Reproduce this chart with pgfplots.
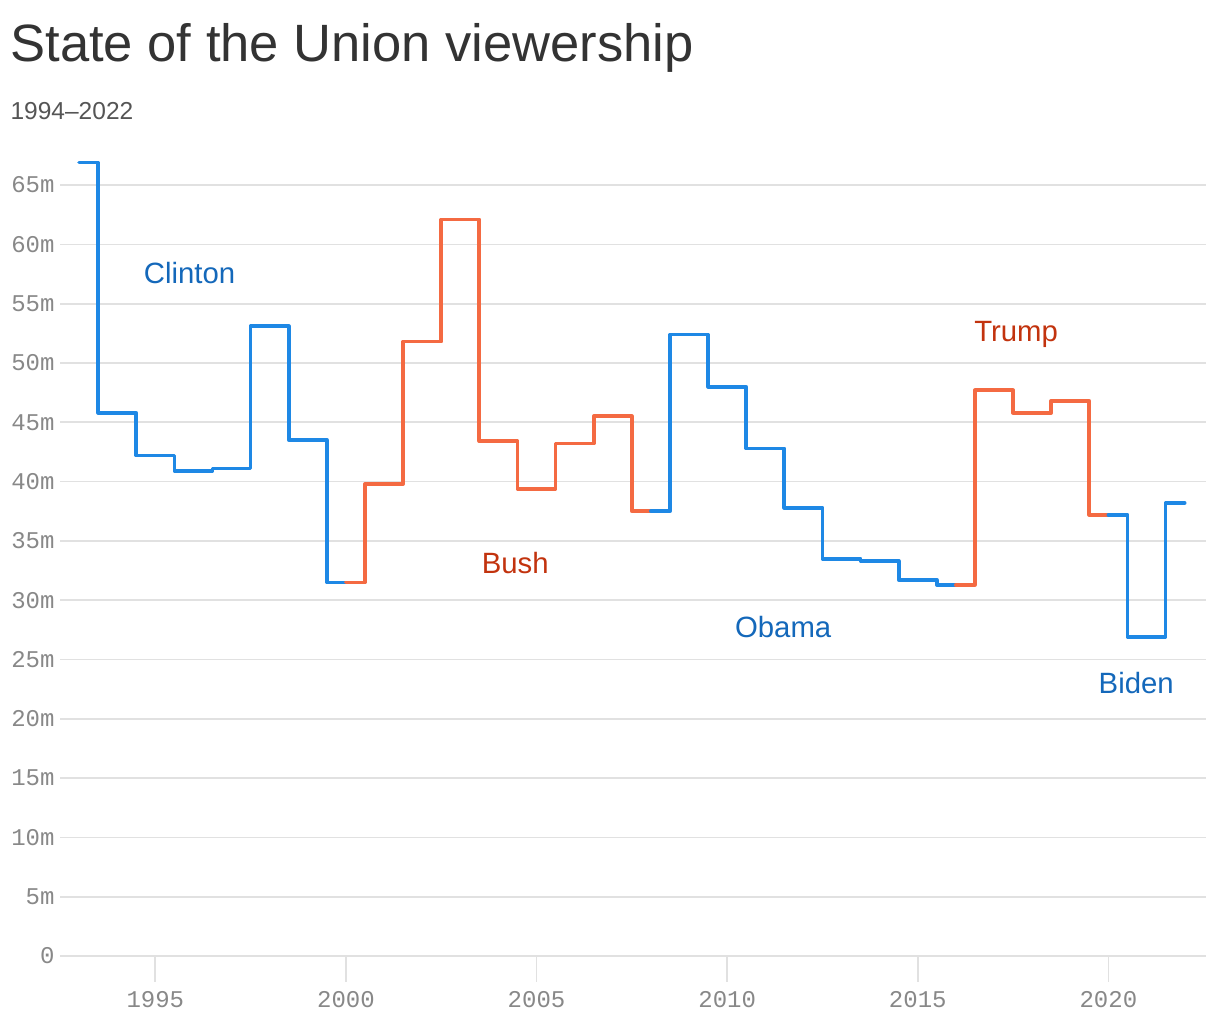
\documentclass[border=0pt]{standalone}
\usepackage{pgfplots}
\pgfplotsset{compat=1.18}
\usepackage{fontspec}
\setmainfont{Liberation Sans}
\newfontfamily\tickfont{Liberation Mono}
\definecolor{linblue}{HTML}{1E88E5}
\definecolor{linorange}{HTML}{F46A42}
\definecolor{labblue}{HTML}{1468BA}
\definecolor{labred}{HTML}{C2330E}
\definecolor{gridgray}{HTML}{E1E1E1}
\definecolor{tickgray}{HTML}{888888}
\definecolor{titlegray}{HTML}{333333}
\definecolor{subgray}{HTML}{555555}
\begin{document}
\begin{tikzpicture}
\useasboundingbox (0,0) rectangle (457.5pt,382.5pt);
\node[anchor=base west, inner sep=0pt, font=\fontsize{19.7}{23}\selectfont, text=titlegray] at (3.75pt,359.25pt) {State of the Union viewership};
\node[anchor=base west, inner sep=0pt, font=\fontsize{9.2}{11}\selectfont, text=subgray] at (3.75pt,337.5pt) {1994–2022};
\begin{axis}[
  at={(22.5pt,24pt)}, anchor=south west,
  scale only axis, width=429.6pt, height=298pt,
  xmin=1992.5, xmax=2022.55, ymin=0, ymax=67,
  clip=false,
  axis line style={draw=none},
  xtick pos=bottom, ytick pos=left,
  ymajorgrids, grid style={color=gridgray, line width=0.65pt},
  ytick={0,5,...,65},
  yticklabels={0,5m,10m,15m,20m,25m,30m,35m,40m,45m,50m,55m,60m,65m},
  xtick={1995,2000,2005,2010,2015,2020},
  xticklabels={1995,2000,2005,2010,2015,2020},
  tick align=outside,
  major tick length=9.75pt,
  tick style={color=gridgray, line width=0.65pt},
  major y tick style=transparent,
  ticklabel style={font=\tickfont\fontsize{9}{10}\selectfont, text=tickgray, inner sep=0pt},
  yticklabel style={anchor=east, xshift=7.9pt},
  xticklabel style={anchor=north, yshift=-3.4pt},
  every axis plot/.append style={line width=1.4pt, line join=round, line cap=round, const plot mark mid, mark=none},
]
\addplot[linblue] coordinates {(1993,66.9)(1994,45.8)(1995,42.2)(1996,40.9)(1997,41.1)(1998,53.1)(1999,43.5)(2000,31.5)};
\addplot[linorange] coordinates {(2000,31.5)(2001,39.8)(2002,51.8)(2003,62.1)(2004,43.4)(2005,39.4)(2006,43.2)(2007,45.5)(2008,37.5)};
\addplot[linblue] coordinates {(2008,37.5)(2009,52.4)(2010,48.0)(2011,42.8)(2012,37.8)(2013,33.5)(2014,33.3)(2015,31.7)(2016,31.3)};
\addplot[linorange] coordinates {(2016,31.3)(2017,47.7)(2018,45.8)(2019,46.8)(2020,37.2)};
\addplot[linblue] coordinates {(2020,37.2)(2021,26.9)(2022,38.2)};
\node[text=labblue, font=\fontsize{11}{13}\selectfont] at (axis cs:1995.9,57.6) {Clinton};
\node[text=labred, font=\fontsize{11}{13}\selectfont] at (axis cs:2004.44,33.1) {Bush};
\node[text=labblue, font=\fontsize{11}{13}\selectfont] at (axis cs:2011.47,27.7) {Obama};
\node[text=labred, font=\fontsize{11}{13}\selectfont] at (axis cs:2017.58,52.4) {Trump};
\node[text=labblue, font=\fontsize{11}{13}\selectfont] at (axis cs:2020.73,23.0) {Biden};
\end{axis}
\end{tikzpicture}
\end{document}
